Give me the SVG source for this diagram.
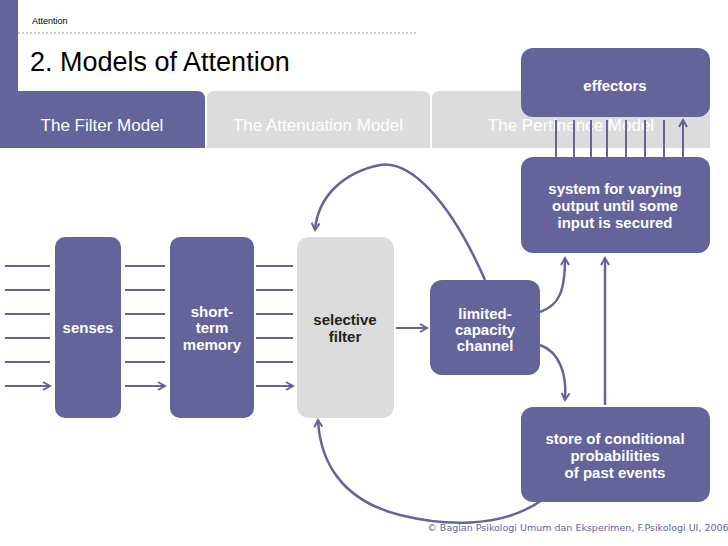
<svg xmlns="http://www.w3.org/2000/svg" width="728" height="546" viewBox="0 0 728 546">
<defs>
<marker id="ah" markerWidth="10" markerHeight="10" refX="8" refY="5" orient="auto" markerUnits="userSpaceOnUse"><path d="M1,1 L8,5 L1,9" fill="none" stroke="#64649a" stroke-width="2"/></marker>
<style>
.n{fill:#64649a}
.t{fill:#fff;font-family:"Liberation Sans",Arial,sans-serif;font-weight:bold;font-size:15px;text-anchor:middle}
.c{fill:none;stroke:#64649a;stroke-width:2.5;marker-end:url(#ah)}
.tab{font-family:"Liberation Sans",Arial,sans-serif;font-size:17px;fill:#fff;text-anchor:middle}
</style>
</defs>
<rect width="728" height="546" fill="#fff"/>
<rect x="0" y="0" width="18" height="148" class="n"/>
<text x="32" y="24" font-family="Liberation Sans,Arial,sans-serif" font-size="9" fill="#000">Attention</text>
<line x1="18" y1="33" x2="418" y2="33" stroke="#999" stroke-dasharray="2,2"/>
<text x="30" y="71" font-family="Liberation Sans,Arial,sans-serif" font-size="27" fill="#000">2. Models of Attention</text>
<path d="M0,91 H197 Q205,91 205,99 V148 H0 Z" class="n"/>
<path d="M207,148 V99 Q207,91 215,91 H422 Q430,91 430,99 V148 Z" fill="#dcdcdc"/>
<path d="M432,148 V99 Q432,91 440,91 H702 Q710,91 710,99 V148 Z" fill="#dcdcdc"/>
<text x="102" y="131" class="tab">The Filter Model</text>
<text x="318" y="131" class="tab">The Attenuation Model</text>
<text x="571" y="131" class="tab">The Pertinence Model</text>
<g id="effectors"><rect x="521" y="48" width="189" height="69" rx="12" class="n"/><text x="615" y="91" class="t">effectors</text></g>
<g id="system"><rect x="521" y="157" width="189" height="96" rx="12" class="n"/><text x="615" y="194" class="t">system for varying</text><text x="615" y="211" class="t">output until some</text><text x="615" y="228" class="t">input is secured</text></g>
<g id="store"><rect x="521" y="407" width="189" height="95" rx="12" class="n"/><text x="615" y="444" class="t">store of conditional</text><text x="615" y="461" class="t">probabilities</text><text x="615" y="478" class="t">of past events</text></g>
<g id="senses"><rect x="55" y="237" width="66" height="181" rx="10" class="n"/><text x="88" y="333" class="t">senses</text></g>
<g id="stm"><rect x="170" y="237" width="84" height="181" rx="10" class="n"/><text x="212" y="317" class="t">short-</text><text x="212" y="333" class="t">term</text><text x="212" y="350" class="t">memory</text></g>
<g id="filter"><rect x="297" y="237" width="97" height="181" rx="12" fill="#dcdcdc"/><text x="345" y="325" class="t" fill="#000" style="fill:#222">selective</text><text x="345" y="342" class="t" style="fill:#222">filter</text></g>
<g id="channel"><rect x="430" y="280" width="110" height="95" rx="12" class="n"/><text x="485" y="319" class="t">limited-</text><text x="485" y="335" class="t">capacity</text><text x="485" y="351" class="t">channel</text></g>
<g id="connectors">
<g class="c" style="stroke-width:2">
<path d="M5,266H50M5,290H50M5,314H50M5,338H50M5,362H50M5,386H50"/>
<path d="M125,266H165M125,290H165M125,314H165M125,338H165M125,362H165M125,386H165"/>
<path d="M256,266H293M256,290H293M256,314H293M256,338H293M256,362H293M256,386H293"/>
<path d="M396,328H427"/>
<path d="M556,157V120M574,157V120M591,157V120M607,157V120M626,157V120M645,157V120M664,157V120M683,157V120"/>
</g>
<path class="c" d="M485,280 C450,200 410,160 380,165 C345,172 318,195 315,230"/>
<path class="c" d="M542,500 C500,530 440,525 400,515 C340,500 320,460 318,420"/>
<path class="c" d="M540,312 C560,305 565,290 565,258"/>
<path class="c" d="M540,345 C560,352 567,375 565,400"/>
<path class="c" d="M605,405V258"/>
</g>
<text x="578" y="531" font-family="DejaVu Sans,sans-serif" font-size="9.5" fill="#64649a" text-anchor="middle">© Bagian Psikologi Umum dan Eksperimen, F.Psikologi UI, 2006</text>
</svg>
